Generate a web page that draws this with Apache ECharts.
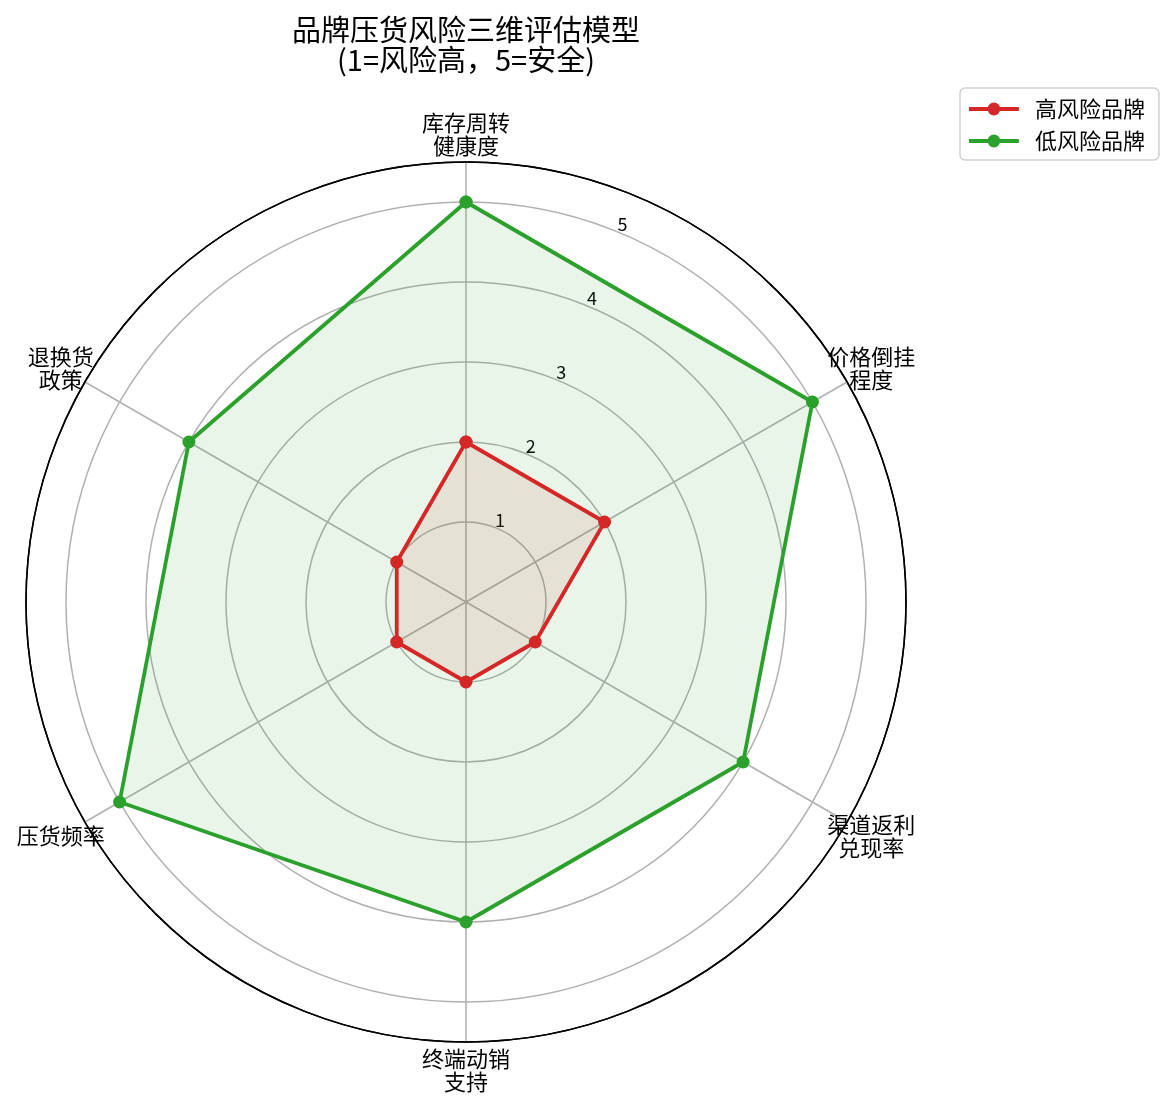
<!DOCTYPE html>
<html><head><meta charset="utf-8">
<script src="https://cdn.jsdelivr.net/npm/echarts@6/dist/echarts.min.js"></script>
<style>html,body{margin:0;padding:0;background:#fff}#c{width:1172px;height:1108px}</style>
</head><body><div id="c"></div>
<script>
const categories = ['库存周转\n健康度', '价格倒挂\n程度', '渠道返利\n兑现率', '终端动销\n支持', '压货频率', '退换货\n政策'];
const highRisk = [2, 2, 1, 1, 1, 1];
const lowRisk = [5, 5, 4, 4, 5, 4];
const radialTicks = [1, 2, 3, 4, 5];
const seriesNames = ['高风险品牌', '低风险品牌'];
const titleText = '品牌压货风险三维评估模型\n(1=风险高，5=安全)';

const FONT = "'Noto Sans CJK SC', 'Noto Sans', sans-serif";
const step = 360 / categories.length;
const labelRadius = 5.85;
function toPolar(vals) {
  const d = vals.map((v, i) => [v, i * step]);
  d.push([vals[0], categories.length * step]);
  return d;
}

const chart = echarts.init(document.getElementById('c'), null, {renderer: 'canvas'});
chart.setOption({
  animation: false,
  backgroundColor: '#fff',
  title: {
    text: titleText, left: 466, top: 15, textAlign: 'center', padding: 0,
    textStyle: {fontSize: 29, lineHeight: 30, fontWeight: 'normal', color: '#000', fontFamily: FONT}
  },
  legend: {
    orient: 'vertical', left: 960, top: 88, padding: [9, 14, 7, 7], itemGap: 8,
    itemWidth: 50, itemHeight: 16, borderColor: '#d0d0d0', borderWidth: 1.5, borderRadius: 5,
    lineStyle: {width: 3.8},
    textStyle: {fontSize: 22, lineHeight: 24, fontFamily: FONT, color: '#000', padding: [0, 0, 0, 11]},
    data: seriesNames
  },
  polar: [
    {center: [466, 602], radius: 440},
    {center: [466, 602], radius: [9, 449]}
  ],
  angleAxis: [
    {
      polarIndex: 0, type: 'value', min: 0, max: 360, interval: step, startAngle: 90, clockwise: true,
      axisLine: {show: true, lineStyle: {color: '#000', width: 1.5}},
      axisTick: {show: false},
      splitLine: {show: true, lineStyle: {color: '#b0b0b0', width: 1.5}},
      axisLabel: {show: false}
    },
    {
      polarIndex: 1, type: 'value', min: 0, max: 360, startAngle: 67.5, clockwise: true,
      axisLine: {show: false}, axisTick: {show: false}, splitLine: {show: false}, axisLabel: {show: false}
    }
  ],
  radiusAxis: [
    {
      polarIndex: 0, type: 'value', min: 0, max: 5.5, interval: 1,
      axisLine: {show: false}, axisTick: {show: false}, axisLabel: {show: false},
      splitLine: {show: true, lineStyle: {color: ['#b0b0b0', '#b0b0b0', '#b0b0b0', '#b0b0b0', '#b0b0b0', '#b0b0b0', '#000'], width: 1.5}}
    },
    {
      polarIndex: 1, type: 'value', min: 0, max: 5.5, interval: 1,
      axisLine: {show: false}, axisTick: {show: false}, splitLine: {show: false},
      axisLabel: {
        show: true, margin: 0, align: 'center', verticalAlign: 'middle',
        fontSize: 18, color: '#000', fontFamily: FONT,
        formatter: v => radialTicks.includes(v) ? String(v) : ''
      }
    }
  ],
  series: [
    {
      name: seriesNames[0], type: 'line', coordinateSystem: 'polar', polarIndex: 0,
      data: toPolar(highRisk), symbol: 'circle', symbolSize: 13,
      lineStyle: {width: 3.8, color: '#d62728'}, itemStyle: {color: '#d62728'},
      areaStyle: {color: '#d62728', opacity: 0.1}, z: 3
    },
    {
      name: seriesNames[1], type: 'line', coordinateSystem: 'polar', polarIndex: 0,
      data: toPolar(lowRisk), symbol: 'circle', symbolSize: 13,
      lineStyle: {width: 3.8, color: '#2ca02c'}, itemStyle: {color: '#2ca02c'},
      areaStyle: {color: '#2ca02c', opacity: 0.1}, z: 3
    },
    {
      name: 'axisNames', type: 'scatter', coordinateSystem: 'polar', polarIndex: 0,
      clip: false, silent: true, symbolSize: 2, itemStyle: {color: 'rgba(255,255,255,0)'},
      data: categories.map((c, i) => ({value: [labelRadius, i * step], name: c})),
      label: {
        show: true, position: 'inside', formatter: p => p.name, opacity: 1,
        textBorderWidth: 0, textShadowBlur: 0,
        fontSize: 22, lineHeight: 23, color: '#000', fontFamily: FONT, align: 'center', verticalAlign: 'middle'
      },
      labelLayout: {hideOverlap: false},
      z: 4
    }
  ]
});
</script></body></html>
